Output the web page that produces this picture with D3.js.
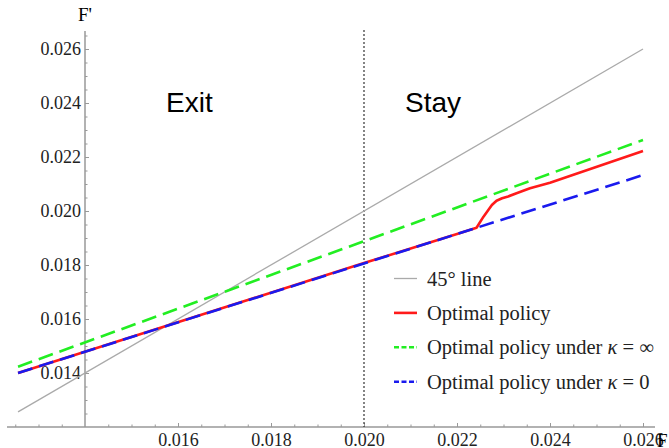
<!DOCTYPE html>
<html>
<head>
<meta charset="utf-8">
<script src="https://cdn.jsdelivr.net/npm/d3@7"></script>
<style>
  body { margin: 0; background: #fff; }
  svg { display: block; }
</style>
</head>
<body>
<svg></svg>
<script>
let width = 669;
let height = 448;

// data (F, F')
let lineF = [0.01256, 0.0260];
let diagFp = [0.01256, 0.0260];
let kappa0Fp = [0.01400, 0.02133];
let kappaInfFp = [0.014233, 0.02263];
let optF = [0.01256, 0.0200, 0.0220, 0.02242, 0.02257, 0.02275, 0.02285, 0.02297, 0.02310, 0.02328, 0.02357, 0.0240, 0.0260];
let optFp = [0.01400, 0.01807, 0.01915, 0.01938, 0.01979, 0.02022, 0.02038, 0.02047, 0.02054, 0.02066, 0.02084, 0.02105, 0.02222];
let xTicks = [0.016, 0.018, 0.020, 0.022, 0.024, 0.026];
let yTicks = [0.014, 0.016, 0.018, 0.020, 0.022, 0.024, 0.026];
let threshold = 0.020;
let legendLabels = ['45° line', 'Optimal policy', 'Optimal policy under ', 'Optimal policy under '];
let legendTails = ['', '', ' = ∞', ' = 0'];

let serif = '"Liberation Serif", "DejaVu Serif", serif';

let xScale = d3.scaleLinear()
                .domain([0.014, 0.026])
                .range([85, 643]);

let yScale = d3.scaleLinear()
                .domain([0.012, 0.026])
                .range([427, 49]);

const svg = d3.select('svg')
                .attr('width', width)
                .attr('height', height);

// axes
let minorX = d3.range(0.0125, 0.02601, 0.0005).filter(v => Math.abs(v / 0.002 - Math.round(v / 0.002)) > 0.01);
let minorY = d3.range(0.0125, 0.02651, 0.0005).filter(v => Math.abs(v / 0.002 - Math.round(v / 0.002)) > 0.01);

let xAxis = svg.append('g')
    .attr('transform', `translate(0,${yScale(0.012)})`)
    .call(d3.axisBottom(xScale).tickValues(xTicks).tickSize(-4).tickPadding(6).tickFormat(d3.format('.3f')));
let xMinor = svg.append('g')
    .attr('transform', `translate(0,${yScale(0.012)})`)
    .call(d3.axisBottom(xScale).tickValues(minorX).tickSize(-2.5).tickFormat(''));

let yAxis = svg.append('g')
    .attr('transform', `translate(${xScale(0.014)},0)`)
    .call(d3.axisLeft(yScale).tickValues(yTicks).tickSize(-4).tickPadding(4).tickFormat(d3.format('.3f')));
let yMinor = svg.append('g')
    .attr('transform', `translate(${xScale(0.014)},0)`)
    .call(d3.axisLeft(yScale).tickValues(minorY).tickSize(-2.5).tickFormat(''));

[xAxis, xMinor, yAxis, yMinor].forEach(g => {
    g.select('.domain').remove();
    g.selectAll('line').attr('stroke', '#999').attr('stroke-width', 1);
    g.selectAll('text').attr('fill', '#222').style('font-family', serif).style('font-size', '18px');
});

svg.append('line')
    .attr('x1', 7).attr('x2', 655)
    .attr('y1', yScale(0.012)).attr('y2', yScale(0.012))
    .attr('stroke', '#999').attr('stroke-width', 1.5);
svg.append('line')
    .attr('x1', xScale(0.014)).attr('x2', xScale(0.014))
    .attr('y1', 31).attr('y2', yScale(0.012))
    .attr('stroke', '#999').attr('stroke-width', 1.5);

svg.append('text')
    .attr('x', 657).attr('y', 447)
    .style('font-family', serif).style('font-size', '19px')
    .text('F');
svg.append('text')
    .attr('x', 78).attr('y', 21)
    .style('font-family', serif).style('font-size', '19px')
    .text('F\'');

// threshold
svg.append('line')
    .attr('x1', xScale(threshold)).attr('x2', xScale(threshold))
    .attr('y1', 30).attr('y2', yScale(0.012))
    .attr('stroke', '#333').attr('stroke-width', 1.2)
    .attr('stroke-dasharray', '2,2');

svg.append('text')
    .attr('x', 166).attr('y', 112)
    .style('font-family', '"Liberation Sans", Arial, sans-serif').style('font-size', '28px')
    .text('Exit');
svg.append('text')
    .attr('x', 405).attr('y', 112)
    .style('font-family', '"Liberation Sans", Arial, sans-serif').style('font-size', '28px')
    .text('Stay');

// lines
let line = d3.line()
    .x(d => xScale(d[0]))
    .y(d => yScale(d[1]));

svg.append('path')
    .datum(d3.zip(lineF, diagFp))
    .attr('d', line)
    .attr('fill', 'none').attr('stroke', '#aaa').attr('stroke-width', 1.3);

svg.append('path')
    .datum(d3.zip(lineF, kappaInfFp))
    .attr('d', line)
    .attr('fill', 'none').attr('stroke', '#22ee22').attr('stroke-width', 2.6)
    .attr('stroke-dasharray', '15,7');

svg.append('path')
    .datum(d3.zip(optF, optFp))
    .attr('d', line)
    .attr('fill', 'none').attr('stroke', '#ff1a1a').attr('stroke-width', 2.6)
    .attr('stroke-linejoin', 'round');

svg.append('path')
    .datum(d3.zip(lineF, kappa0Fp))
    .attr('d', line)
    .attr('fill', 'none').attr('stroke', '#1a1aee').attr('stroke-width', 2.6)
    .attr('stroke-dasharray', '15,7');

// legend
let legendStyles = [
    {color: '#aaa', width: 1.3, dash: null},
    {color: '#ff1a1a', width: 2.6, dash: null},
    {color: '#22ee22', width: 2.6, dash: '5,2.5'},
    {color: '#1a1aee', width: 2.6, dash: '5,2.5'}
];

let legend = svg.selectAll('.legend')
    .data(legendLabels)
    .enter()
    .append('g')
        .attr('class', 'legend')
        .attr('transform', (d, i) => `translate(394,${278.5 + i * 34.4})`);

legend.append('line')
    .attr('x1', 0).attr('x2', 23)
    .attr('stroke', (d, i) => legendStyles[i].color)
    .attr('stroke-width', (d, i) => legendStyles[i].width)
    .attr('stroke-dasharray', (d, i) => legendStyles[i].dash);

let legendText = legend.append('text')
    .attr('x', 33).attr('dy', '0.35em')
    .style('font-family', serif).style('font-size', '20.5px')
    .attr('fill', '#222');
legendText.append('tspan').text(d => d);
legendText.filter((d, i) => legendTails[i] !== '')
    .append('tspan').style('font-style', 'italic').text('κ');
legendText.append('tspan').text((d, i) => legendTails[i]);
</script>
</body>
</html>
